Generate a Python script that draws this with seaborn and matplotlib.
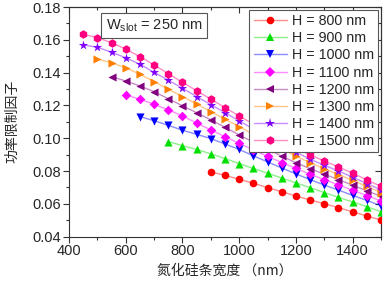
import numpy as np
import pandas as pd
import matplotlib
matplotlib.use("Agg")
import matplotlib.pyplot as plt
from matplotlib.lines import Line2D
from matplotlib.ticker import MultipleLocator
import seaborn as sns

# slot waveguide: Si3N4 strip width vs power confinement factor, W_slot = 250 nm
widths = [450, 500, 550, 600, 650, 700, 750, 800, 850, 900, 950, 1000,
          1050, 1100, 1150, 1200, 1250, 1300, 1350, 1400, 1450, 1500]

h800 = [0.0795, 0.0774, 0.0750, 0.0726, 0.0699, 0.0674, 0.0648, 0.0624,
        0.0601, 0.0577, 0.0552, 0.0526, 0.0502]
h900 = [0.0980, 0.0955, 0.0932, 0.0905, 0.0876, 0.0846, 0.0816, 0.0787,
        0.0758, 0.0728, 0.0699, 0.0669, 0.0640, 0.0612, 0.0583, 0.0553]
h1000 = [0.1132, 0.1107, 0.1079, 0.1049, 0.1024, 0.0998, 0.0965, 0.0932,
         0.0893, 0.0856, 0.0819, 0.0783, 0.0748, 0.0715, 0.0684, 0.0652,
         0.0621, 0.0589]
h1100 = [0.1264, 0.1238, 0.1207, 0.1173, 0.1136, 0.1093, 0.1051, 0.1010,
         0.0969, 0.0929, 0.0890, 0.0852, 0.0816, 0.0781, 0.0748, 0.0716,
         0.0683, 0.0651, 0.0618]
h1200 = [0.1376, 0.1349, 0.1319, 0.1284, 0.1241, 0.1198, 0.1156, 0.1112,
         0.1067, 0.1020, 0.0976, 0.0933, 0.0891, 0.0851, 0.0815, 0.0781,
         0.0748, 0.0714, 0.0680, 0.0646]
h1300 = [0.1482, 0.1461, 0.1429, 0.1390, 0.1345, 0.1299, 0.1254, 0.1209,
         0.1162, 0.1116, 0.1071, 0.1024, 0.0978, 0.0934, 0.0891, 0.0851,
         0.0814, 0.0779, 0.0743, 0.0706, 0.0669]
h1400 = [0.1569, 0.1555, 0.1524, 0.1491, 0.1451, 0.1402, 0.1354, 0.1305,
         0.1254, 0.1205, 0.1156, 0.1106, 0.1057, 0.1009, 0.0961, 0.0916,
         0.0872, 0.0836, 0.0800, 0.0763, 0.0724, 0.0685]
h1500 = [0.1634, 0.1613, 0.1583, 0.1543, 0.1498, 0.1447, 0.1394, 0.1341,
         0.1290, 0.1238, 0.1187, 0.1136, 0.1086, 0.1037, 0.0988, 0.0942,
         0.0898, 0.0862, 0.0825, 0.0787, 0.0747, 0.0706]

labels = ['H = 800 nm', 'H = 900 nm', 'H = 1000 nm', 'H = 1100 nm',
          'H = 1200 nm', 'H = 1300 nm', 'H = 1400 nm', 'H = 1500 nm']
series = [h800, h900, h1000, h1100, h1200, h1300, h1400, h1500]
colors = ['#FF0000', '#00E000', '#0000FF', '#FF00FF',
          '#800080', '#FF8000', '#8000FF', '#FF0080']
markers = ['o', '^', 'v', 'D', '<', '>', '*', 'h']
sizes = [30, 34, 34, 24, 34, 34, 48, 38]

# long table, each series starts at its own width
rows = []
for lab, vals in zip(labels, series):
    for w, v in zip(widths[-len(vals):], vals):
        rows.append((lab, w, v))
df = pd.DataFrame(rows, columns=['H', 'width', 'pcf'])

sns.set_style('ticks')
plt.rcParams['font.family'] = ['Liberation Sans', 'Noto Sans CJK SC', 'DejaVu Sans']
plt.rcParams['mathtext.fontset'] = 'custom'
plt.rcParams['mathtext.rm'] = 'Liberation Sans'
plt.rcParams['mathtext.it'] = 'Liberation Sans'

fig = plt.figure(figsize=(3.84, 2.83), dpi=100)
ax = fig.add_axes([0.1797, 0.1636, 0.8125, 0.8116])

pal = dict(zip(labels, colors))
sns.lineplot(data=df, x='width', y='pcf', hue='H', palette=pal, hue_order=labels,
             alpha=0.45, lw=1.0, legend=False, ax=ax)
for lab, mk, sz in zip(labels, markers, sizes):
    sub = df[df['H'] == lab]
    sns.scatterplot(data=sub, x='width', y='pcf', color=pal[lab], marker=mk,
                    s=sz, linewidth=0, legend=False, ax=ax, zorder=3)

ax.set_xlim(400, 1500)
ax.set_ylim(0.04, 0.18)
ax.xaxis.set_major_locator(MultipleLocator(200))
ax.xaxis.set_minor_locator(MultipleLocator(100))
ax.yaxis.set_major_locator(MultipleLocator(0.02))
ax.yaxis.set_minor_locator(MultipleLocator(0.01))
ax.yaxis.set_major_formatter(matplotlib.ticker.FormatStrFormatter('%.2f'))
ax.tick_params(which='major', length=4, width=0.8, labelsize=10.5, pad=1.5, color='#333333')
ax.tick_params(which='minor', length=2.3, width=0.8, color='#333333')
for sp in ax.spines.values():
    sp.set_visible(True)
    sp.set_linewidth(0.8)
    sp.set_color('#333333')

# mirrored ticks pointing inward on top and right
top = ax.secondary_xaxis('top')
top.xaxis.set_major_locator(MultipleLocator(200))
top.xaxis.set_minor_locator(MultipleLocator(100))
top.tick_params(which='both', direction='in', labeltop=False, color='#333333', width=0.8)
top.tick_params(which='major', length=4)
top.tick_params(which='minor', length=2.3)
right = ax.secondary_yaxis('right')
right.yaxis.set_major_locator(MultipleLocator(0.02))
right.yaxis.set_minor_locator(MultipleLocator(0.01))
right.tick_params(which='both', direction='in', labelright=False, color='#333333', width=0.8)
right.tick_params(which='major', length=4)
right.tick_params(which='minor', length=2.3)

ax.set_xlabel('氮化硅条宽度 （nm）', fontsize=10, family=['Noto Sans CJK SC', 'DejaVu Sans'],
              labelpad=4)
ax.set_ylabel('功率限制因子', fontsize=10, family=['Noto Sans CJK SC', 'DejaVu Sans'],
              labelpad=10)

handles = [Line2D([0], [0], color=matplotlib.colors.to_rgba(c, 0.45), lw=1.0, marker=m,
                  markersize=np.sqrt(s), markeredgewidth=0, markerfacecolor=c)
           for c, m, s in zip(colors, markers, sizes)]
leg = ax.legend(handles, labels, loc='upper right', fontsize=10.3, frameon=True,
                fancybox=False, edgecolor='#555555', framealpha=1,
                handlelength=2.3, handletextpad=0.35, labelspacing=0.22,
                borderaxespad=0.2, borderpad=0.3)
leg.get_frame().set_linewidth(0.8)

ax.text(0.118, 0.955, r'W$_{\mathrm{slot}}$ = 250 nm', transform=ax.transAxes,
        fontsize=10.5, va='top', ha='left',
        bbox=dict(boxstyle='square,pad=0.3', fc='white', ec='#555555', lw=0.8))

fig.savefig('out.png', dpi=100)
